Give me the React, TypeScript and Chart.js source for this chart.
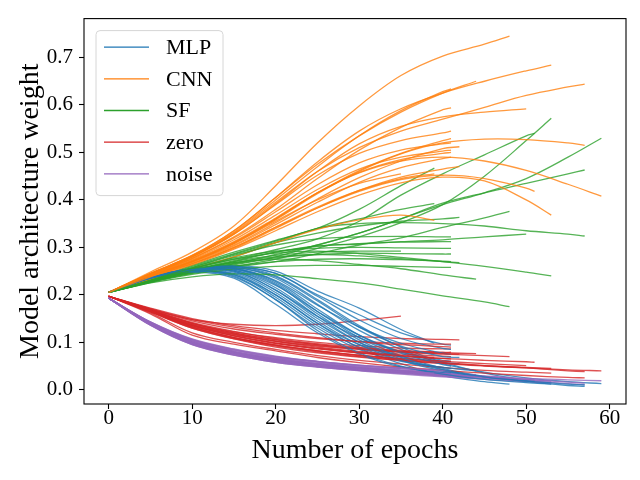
import React, { useRef, useEffect } from "react";
import { Chart, registerables } from "chart.js";

Chart.register(...registerables);

// epochs at which each run was sampled; the last value of a run sits at its own end epoch
const STEPS = [0, 5, 10, 15, 20, 25, 30, 35, 40, 45, 50, 55];
const X_TICKS = [0, 10, 20, 30, 40, 50, 60];
const Y_TICKS = [0, 0.1, 0.2, 0.3, 0.4, 0.5, 0.6, 0.7];

const SERIES_NAMES = ["MLP", "CNN", "SF", "zero", "noise"];
const SERIES_COLORS = ["31,119,180", "255,127,14", "44,160,44", "214,39,40", "148,103,189"];

const MLP_ENDS = [39, 41, 57, 59, 48, 53, 50, 41, 41, 41, 42, 44, 35, 41, 39, 41, 41, 42, 51, 53, 57];
const MLP_WEIGHTS = [
  [0.205, 0.238, 0.255, 0.262, 0.25, 0.208, 0.172, 0.127, 0.098],
  [0.205, 0.237, 0.254, 0.26, 0.245, 0.2, 0.158, 0.12, 0.096, 0.094],
  [0.205, 0.236, 0.252, 0.255, 0.225, 0.165, 0.11, 0.072, 0.045, 0.028, 0.017, 0.009, 0.007],
  [0.205, 0.237, 0.254, 0.258, 0.235, 0.18, 0.125, 0.085, 0.055, 0.037, 0.025, 0.017, 0.013],
  [0.205, 0.235, 0.25, 0.245, 0.2, 0.14, 0.088, 0.055, 0.03, 0.017, 0.012],
  [0.205, 0.236, 0.253, 0.252, 0.215, 0.155, 0.1, 0.065, 0.042, 0.027, 0.018, 0.015],
  [0.205, 0.237, 0.255, 0.26, 0.24, 0.19, 0.135, 0.09, 0.058, 0.035, 0.02],
  [0.205, 0.236, 0.252, 0.25, 0.21, 0.155, 0.11, 0.08, 0.062, 0.06],
  [0.205, 0.235, 0.25, 0.24, 0.19, 0.13, 0.085, 0.06, 0.047, 0.045],
  [0.205, 0.237, 0.254, 0.256, 0.23, 0.178, 0.132, 0.098, 0.077, 0.075],
  [0.205, 0.236, 0.252, 0.252, 0.22, 0.165, 0.115, 0.08, 0.058, 0.055],
  [0.205, 0.235, 0.25, 0.243, 0.195, 0.135, 0.09, 0.062, 0.047, 0.04],
  [0.205, 0.236, 0.252, 0.25, 0.21, 0.15, 0.1, 0.07],
  [0.205, 0.234, 0.248, 0.235, 0.18, 0.12, 0.075, 0.048, 0.036, 0.035],
  [0.205, 0.235, 0.25, 0.242, 0.2, 0.14, 0.095, 0.07, 0.06],
  [0.205, 0.237, 0.255, 0.26, 0.245, 0.197, 0.147, 0.108, 0.087, 0.085],
  [0.205, 0.236, 0.253, 0.255, 0.228, 0.17, 0.115, 0.077, 0.053, 0.05],
  [0.205, 0.237, 0.254, 0.258, 0.238, 0.187, 0.132, 0.092, 0.07, 0.068],
  [0.205, 0.236, 0.252, 0.248, 0.205, 0.145, 0.095, 0.062, 0.04, 0.027, 0.019, 0.018],
  [0.205, 0.235, 0.25, 0.238, 0.19, 0.125, 0.078, 0.05, 0.033, 0.022, 0.015, 0.012],
  [0.205, 0.236, 0.253, 0.254, 0.222, 0.16, 0.105, 0.068, 0.043, 0.027, 0.018, 0.012, 0.01],
];

const CNN_ENDS = [48, 53, 57, 44, 41, 41, 50, 41, 42, 57, 59, 51, 53, 39, 35, 41, 41, 41, 42, 41, 39, 41];
const CNN_WEIGHTS = [
  [0.205, 0.248, 0.29, 0.345, 0.43, 0.52, 0.598, 0.662, 0.703, 0.728, 0.745],
  [0.205, 0.245, 0.283, 0.335, 0.405, 0.48, 0.545, 0.592, 0.625, 0.65, 0.672, 0.684],
  [0.205, 0.244, 0.28, 0.33, 0.395, 0.46, 0.51, 0.545, 0.57, 0.595, 0.62, 0.638, 0.644],
  [0.205, 0.245, 0.283, 0.335, 0.405, 0.475, 0.535, 0.585, 0.625, 0.65],
  [0.205, 0.245, 0.282, 0.332, 0.4, 0.47, 0.535, 0.588, 0.628, 0.634],
  [0.205, 0.243, 0.277, 0.322, 0.38, 0.445, 0.505, 0.553, 0.59, 0.594],
  [0.205, 0.244, 0.28, 0.328, 0.392, 0.46, 0.518, 0.555, 0.575, 0.585, 0.592],
  [0.205, 0.241, 0.272, 0.31, 0.36, 0.415, 0.462, 0.498, 0.525, 0.529],
  [0.205, 0.24, 0.27, 0.305, 0.352, 0.402, 0.447, 0.482, 0.508, 0.512],
  [0.205, 0.24, 0.27, 0.308, 0.358, 0.413, 0.46, 0.497, 0.52, 0.528, 0.527, 0.52, 0.515],
  [0.205, 0.24, 0.27, 0.31, 0.36, 0.415, 0.457, 0.482, 0.49, 0.482, 0.462, 0.433, 0.408],
  [0.205, 0.238, 0.266, 0.3, 0.342, 0.383, 0.418, 0.443, 0.452, 0.445, 0.425, 0.418],
  [0.205, 0.237, 0.263, 0.296, 0.335, 0.375, 0.41, 0.436, 0.448, 0.44, 0.4, 0.368],
  [0.205, 0.232, 0.255, 0.28, 0.31, 0.338, 0.358, 0.368, 0.357],
  [0.205, 0.24, 0.27, 0.308, 0.355, 0.4, 0.435, 0.455],
  [0.205, 0.241, 0.273, 0.312, 0.362, 0.415, 0.458, 0.485, 0.498, 0.5],
  [0.205, 0.243, 0.277, 0.32, 0.375, 0.432, 0.478, 0.505, 0.518, 0.52],
  [0.205, 0.239, 0.268, 0.303, 0.348, 0.395, 0.437, 0.468, 0.487, 0.49],
  [0.205, 0.238, 0.265, 0.298, 0.34, 0.383, 0.42, 0.448, 0.465, 0.47],
  [0.205, 0.244, 0.28, 0.328, 0.39, 0.452, 0.498, 0.525, 0.541, 0.545],
  [0.205, 0.238, 0.266, 0.3, 0.343, 0.385, 0.42, 0.445, 0.455],
  [0.205, 0.242, 0.275, 0.316, 0.368, 0.422, 0.465, 0.49, 0.503, 0.505],
];

const SF_ENDS = [39, 51, 53, 59, 57, 48, 42, 57, 50, 41, 39, 41, 41, 42, 41, 44, 53, 48, 41, 35, 41];
const SF_WEIGHTS = [
  [0.205, 0.233, 0.262, 0.29, 0.315, 0.34, 0.38, 0.43, 0.467],
  [0.205, 0.23, 0.255, 0.275, 0.295, 0.318, 0.355, 0.41, 0.455, 0.495, 0.535, 0.54],
  [0.205, 0.228, 0.248, 0.26, 0.275, 0.298, 0.322, 0.352, 0.39, 0.45, 0.525, 0.572],
  [0.205, 0.228, 0.248, 0.263, 0.28, 0.305, 0.33, 0.36, 0.39, 0.415, 0.445, 0.49, 0.53],
  [0.205, 0.229, 0.25, 0.266, 0.285, 0.305, 0.33, 0.36, 0.393, 0.415, 0.435, 0.455, 0.463],
  [0.205, 0.227, 0.245, 0.258, 0.27, 0.287, 0.305, 0.32, 0.342, 0.362, 0.376],
  [0.205, 0.232, 0.258, 0.285, 0.31, 0.33, 0.345, 0.355, 0.36, 0.363],
  [0.205, 0.23, 0.256, 0.28, 0.31, 0.34, 0.35, 0.352, 0.35, 0.345, 0.335, 0.328, 0.324],
  [0.205, 0.228, 0.25, 0.27, 0.29, 0.303, 0.307, 0.312, 0.316, 0.322, 0.328],
  [0.205, 0.229, 0.252, 0.272, 0.29, 0.302, 0.308, 0.311, 0.312, 0.312],
  [0.205, 0.232, 0.26, 0.287, 0.313, 0.34, 0.36, 0.38, 0.392],
  [0.205, 0.228, 0.248, 0.265, 0.278, 0.285, 0.288, 0.287, 0.286, 0.286],
  [0.205, 0.227, 0.246, 0.26, 0.27, 0.275, 0.276, 0.274, 0.271, 0.27],
  [0.205, 0.228, 0.25, 0.268, 0.28, 0.285, 0.282, 0.276, 0.27, 0.268],
  [0.205, 0.226, 0.243, 0.254, 0.26, 0.262, 0.262, 0.26, 0.258, 0.258],
  [0.205, 0.229, 0.252, 0.268, 0.275, 0.272, 0.264, 0.255, 0.242, 0.233],
  [0.205, 0.23, 0.255, 0.275, 0.288, 0.292, 0.287, 0.279, 0.27, 0.26, 0.248, 0.24],
  [0.205, 0.225, 0.238, 0.244, 0.242, 0.234, 0.225, 0.212, 0.198, 0.185, 0.175],
  [0.205, 0.23, 0.255, 0.278, 0.292, 0.298, 0.3, 0.299, 0.298, 0.298],
  [0.205, 0.229, 0.252, 0.27, 0.283, 0.29, 0.292, 0.292],
  [0.205, 0.231, 0.257, 0.283, 0.305, 0.318, 0.322, 0.323, 0.322, 0.322],
];

const ZERO_ENDS = [35, 42, 41, 41, 41, 44, 48, 50, 53, 53, 57, 59, 41, 41, 39, 41, 42, 51, 57, 41, 39];
const ZERO_WEIGHTS = [
  [0.197, 0.17, 0.148, 0.138, 0.135, 0.138, 0.146, 0.155],
  [0.197, 0.172, 0.15, 0.135, 0.125, 0.118, 0.112, 0.108, 0.106, 0.105],
  [0.197, 0.17, 0.145, 0.128, 0.117, 0.108, 0.102, 0.098, 0.096, 0.096],
  [0.197, 0.168, 0.14, 0.122, 0.11, 0.1, 0.093, 0.088, 0.086, 0.086],
  [0.197, 0.167, 0.137, 0.117, 0.103, 0.093, 0.086, 0.081, 0.079, 0.079],
  [0.197, 0.168, 0.14, 0.12, 0.105, 0.095, 0.087, 0.081, 0.078, 0.076],
  [0.197, 0.166, 0.136, 0.116, 0.102, 0.092, 0.085, 0.079, 0.075, 0.072, 0.07],
  [0.197, 0.165, 0.133, 0.11, 0.094, 0.082, 0.073, 0.065, 0.06, 0.055, 0.051],
  [0.197, 0.164, 0.13, 0.107, 0.09, 0.078, 0.069, 0.062, 0.056, 0.051, 0.047, 0.045],
  [0.197, 0.162, 0.12, 0.1, 0.085, 0.072, 0.062, 0.054, 0.047, 0.041, 0.037, 0.035],
  [0.197, 0.16, 0.115, 0.096, 0.082, 0.068, 0.057, 0.048, 0.041, 0.035, 0.03, 0.026, 0.025],
  [0.197, 0.164, 0.13, 0.108, 0.092, 0.08, 0.07, 0.062, 0.055, 0.05, 0.046, 0.042, 0.04],
  [0.197, 0.166, 0.135, 0.113, 0.097, 0.086, 0.077, 0.07, 0.066, 0.065],
  [0.197, 0.167, 0.138, 0.118, 0.102, 0.09, 0.081, 0.075, 0.071, 0.07],
  [0.197, 0.169, 0.142, 0.123, 0.108, 0.097, 0.089, 0.083, 0.08],
  [0.197, 0.165, 0.132, 0.11, 0.094, 0.082, 0.073, 0.066, 0.061, 0.06],
  [0.197, 0.168, 0.14, 0.12, 0.106, 0.095, 0.086, 0.08, 0.076, 0.075],
  [0.197, 0.166, 0.135, 0.114, 0.099, 0.088, 0.079, 0.072, 0.066, 0.062, 0.059, 0.058],
  [0.197, 0.165, 0.132, 0.11, 0.094, 0.082, 0.072, 0.064, 0.057, 0.051, 0.046, 0.04, 0.038],
  [0.197, 0.171, 0.148, 0.132, 0.12, 0.11, 0.101, 0.095, 0.091, 0.09],
  [0.197, 0.166, 0.135, 0.114, 0.098, 0.087, 0.078, 0.072, 0.068],
];

const NOISE_ENDS = [35, 42, 41, 41, 41, 44, 48, 50, 53, 53, 57, 59, 41, 41, 39, 41, 42, 51, 57, 41, 39];
const NOISE_WEIGHTS = [
  [0.193, 0.143, 0.106, 0.085, 0.07, 0.06, 0.052, 0.046],
  [0.193, 0.141, 0.103, 0.081, 0.066, 0.056, 0.048, 0.042, 0.037, 0.036],
  [0.193, 0.142, 0.105, 0.083, 0.068, 0.058, 0.05, 0.044, 0.039, 0.038],
  [0.193, 0.139, 0.1, 0.078, 0.063, 0.053, 0.045, 0.039, 0.034, 0.033],
  [0.193, 0.137, 0.097, 0.075, 0.06, 0.05, 0.042, 0.036, 0.031, 0.03],
  [0.193, 0.14, 0.101, 0.079, 0.064, 0.054, 0.046, 0.04, 0.035, 0.032],
  [0.193, 0.139, 0.1, 0.078, 0.063, 0.053, 0.045, 0.039, 0.033, 0.028, 0.025],
  [0.193, 0.137, 0.096, 0.074, 0.059, 0.049, 0.041, 0.035, 0.029, 0.024, 0.02],
  [0.193, 0.139, 0.1, 0.078, 0.063, 0.052, 0.044, 0.037, 0.031, 0.026, 0.021, 0.018],
  [0.193, 0.136, 0.095, 0.073, 0.058, 0.048, 0.04, 0.033, 0.027, 0.022, 0.017, 0.014],
  [0.193, 0.137, 0.097, 0.075, 0.06, 0.05, 0.042, 0.035, 0.029, 0.024, 0.019, 0.013, 0.011],
  [0.193, 0.14, 0.102, 0.08, 0.065, 0.055, 0.047, 0.04, 0.034, 0.029, 0.024, 0.021, 0.019],
  [0.193, 0.141, 0.103, 0.081, 0.066, 0.055, 0.047, 0.041, 0.036, 0.035],
  [0.193, 0.136, 0.095, 0.073, 0.058, 0.048, 0.041, 0.035, 0.03, 0.029],
  [0.193, 0.142, 0.105, 0.084, 0.069, 0.059, 0.051, 0.045, 0.041],
  [0.193, 0.138, 0.099, 0.077, 0.062, 0.052, 0.045, 0.039, 0.034, 0.033],
  [0.193, 0.139, 0.1, 0.078, 0.063, 0.053, 0.045, 0.039, 0.034, 0.033],
  [0.193, 0.139, 0.099, 0.077, 0.062, 0.052, 0.044, 0.038, 0.032, 0.027, 0.022, 0.021],
  [0.193, 0.139, 0.1, 0.078, 0.063, 0.053, 0.045, 0.038, 0.032, 0.027, 0.022, 0.016, 0.014],
  [0.193, 0.143, 0.107, 0.086, 0.071, 0.06, 0.052, 0.046, 0.041, 0.04],
  [0.193, 0.138, 0.099, 0.077, 0.062, 0.052, 0.044, 0.038, 0.035],
];

const SERIES_ENDS = [MLP_ENDS, CNN_ENDS, SF_ENDS, ZERO_ENDS, NOISE_ENDS];
const SERIES_WEIGHTS = [MLP_WEIGHTS, CNN_WEIGHTS, SF_WEIGHTS, ZERO_WEIGHTS, NOISE_WEIGHTS];

const FONT = "'Liberation Serif', 'Times New Roman', serif";

const toPoints = (values: number[], end: number) => {
  const xs = STEPS.filter((s) => s < end).concat(end);
  return xs.map((x, i) => ({ x, y: values[i] }));
};

// matplotlib-style frame round the plot area
const framePlugin = {
  id: "frame",
  afterDatasetsDraw(chart: any) {
    const { ctx, chartArea } = chart;
    ctx.save();
    ctx.strokeStyle = "#000";
    ctx.lineWidth = 1.1;
    ctx.strokeRect(chartArea.left, chartArea.top, chartArea.right - chartArea.left, chartArea.bottom - chartArea.top);
    ctx.restore();
  },
};

// legend box in the upper left corner of the plot area
const legendPlugin = {
  id: "boxLegend",
  afterDraw(chart: any) {
    const { ctx, chartArea } = chart;
    const x0 = chartArea.left + 12;
    const y0 = chartArea.top + 12;
    const w = 127;
    const h = 165;
    const r = 4;
    ctx.save();
    ctx.beginPath();
    ctx.moveTo(x0 + r, y0);
    ctx.arcTo(x0 + w, y0, x0 + w, y0 + h, r);
    ctx.arcTo(x0 + w, y0 + h, x0, y0 + h, r);
    ctx.arcTo(x0, y0 + h, x0, y0, r);
    ctx.arcTo(x0, y0, x0 + w, y0, r);
    ctx.closePath();
    ctx.fillStyle = "rgba(255,255,255,0.8)";
    ctx.fill();
    ctx.strokeStyle = "#d6d6d6";
    ctx.lineWidth = 1;
    ctx.stroke();

    ctx.font = `22px ${FONT}`;
    ctx.textBaseline = "middle";
    ctx.textAlign = "left";
    SERIES_NAMES.forEach((name, i) => {
      const y = y0 + 16.5 + i * 31.7;
      ctx.strokeStyle = `rgb(${SERIES_COLORS[i]})`;
      ctx.lineWidth = 1.3;
      ctx.beginPath();
      ctx.moveTo(x0 + 8, y);
      ctx.lineTo(x0 + 53, y);
      ctx.stroke();
      ctx.fillStyle = "#000";
      ctx.fillText(name, x0 + 70, y + 1);
    });
    ctx.restore();
  },
};

const App: React.FC = () => {
  const chartRef = useRef<HTMLCanvasElement>(null);
  const chartInstance = useRef<Chart | null>(null);

  useEffect(() => {
    document.body.style.margin = "0";
    if (!chartRef.current) return;
    if (chartInstance.current) chartInstance.current.destroy();
    const ctx = chartRef.current.getContext("2d");
    if (!ctx) return;

    // one line per run and architecture, in the order the runs were plotted
    const datasets: any[] = [];
    const runs = Math.max(...SERIES_WEIGHTS.map((s) => s.length));
    for (let run = 0; run < runs; run++) {
      SERIES_WEIGHTS.forEach((weights, k) => {
        if (!weights[run]) return;
        datasets.push({
          label: SERIES_NAMES[k],
          data: toPoints(weights[run], SERIES_ENDS[k][run]),
          borderColor: `rgba(${SERIES_COLORS[k]},0.8)`,
          borderWidth: 1.3,
          pointRadius: 0,
          fill: false,
          tension: 0.35,
        });
      });
    }
    // Chart.js paints the first dataset on top, matplotlib the last one
    datasets.reverse();

    chartInstance.current = new Chart(ctx, {
      type: "line",
      data: { datasets },
      options: {
        responsive: false,
        animation: false,
        devicePixelRatio: 1,
        layout: { padding: { left: 0, top: 15, right: 14, bottom: 0 } },
        plugins: { legend: { display: false }, tooltip: { enabled: false } },
        scales: {
          x: {
            type: "linear",
            min: -2.95,
            max: 61.95,
            afterBuildTicks: (scale: any) => {
              scale.ticks = X_TICKS.map((v) => ({ value: v }));
            },
            afterFit: (scale: any) => {
              scale.height = 76;
            },
            grid: { drawOnChartArea: false, drawTicks: true, tickLength: 5, tickColor: "#000", tickWidth: 1.1 },
            border: { display: false },
            ticks: {
              color: "#000",
              font: { family: FONT, size: 21 },
              padding: -3,
              maxRotation: 0,
              autoSkip: false,
              callback: (v: any) => String(v),
            },
            title: {
              display: true,
              text: "Number of epochs",
              color: "#000",
              font: { family: FONT, size: 28 },
              padding: { top: 0, bottom: 13 },
            },
          },
          y: {
            type: "linear",
            min: -0.03,
            max: 0.782,
            afterBuildTicks: (scale: any) => {
              scale.ticks = Y_TICKS.map((v) => ({ value: v }));
            },
            afterFit: (scale: any) => {
              scale.width = 84;
            },
            grid: { drawOnChartArea: false, drawTicks: true, tickLength: 5, tickColor: "#000", tickWidth: 1.1 },
            border: { display: false },
            ticks: {
              color: "#000",
              font: { family: FONT, size: 21 },
              padding: 6,
              autoSkip: false,
              callback: (v: any) => Number(v).toFixed(1),
            },
            title: {
              display: true,
              text: "Model architecture weight",
              color: "#000",
              font: { family: FONT, size: 28 },
              padding: { top: 14, bottom: 0 },
            },
          },
        },
      },
      plugins: [framePlugin, legendPlugin],
    });

    return () => {
      if (chartInstance.current) {
        chartInstance.current.destroy();
        chartInstance.current = null;
      }
    };
  }, []);

  return (
    <div style={{ width: 640, height: 480 }}>
      <canvas ref={chartRef} width={640} height={480} style={{ display: "block" }}></canvas>
    </div>
  );
};

export default App;
